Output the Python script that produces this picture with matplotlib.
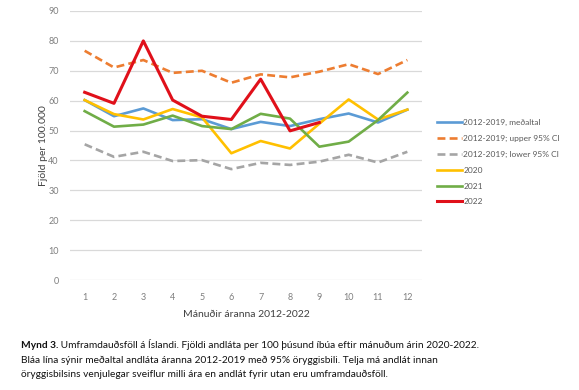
import numpy as np
import matplotlib.pyplot as plt

# Mánuðir 1-12
months = np.arange(1, 13)

mean_1219 = [60.2, 54.8, 57.4, 53.5, 53.8, 50.5, 52.9, 51.5, 53.8, 55.7, 52.7, 57.0]
upper_1219 = [76.7, 71.1, 73.6, 69.3, 70.0, 66.0, 68.8, 67.8, 69.7, 72.2, 68.9, 73.6]
lower_1219 = [45.4, 41.2, 42.9, 39.8, 40.1, 37.1, 39.2, 38.5, 39.6, 41.9, 39.3, 42.9]
y2020 = [60.2, 55.5, 53.7, 57.2, 54.4, 42.4, 46.5, 44.0, 52.3, 60.4, 53.7, 57.0]
y2021 = [56.5, 51.3, 52.0, 55.0, 51.5, 50.5, 55.6, 54.0, 44.6, 46.3, 53.5, 62.7]
y2022 = [62.8, 59.1, 80.0, 60.2, 54.8, 53.7, 67.2, 49.9, 52.7]

labels = ['2012-2019, meðaltal', '2012-2019; upper 95% CI', '2012-2019; lower 95% CI',
          '2020', '2021', '2022']

plt.rcParams['font.family'] = ['Lato', 'DejaVu Sans']

fig = plt.figure(figsize=(5.79, 3.9), dpi=100)
ax = fig.add_axes([70 / 579, 1 - 280 / 390, 352 / 579, 269 / 390])

ax.plot(months, mean_1219, color='#5b9bd5', lw=1.9, label=labels[0])
ax.plot(months, upper_1219, color='#ed7d31', lw=1.9, ls=(0, (3, 1.6)), label=labels[1])
ax.plot(months, lower_1219, color='#a5a5a5', lw=1.9, ls=(0, (3, 1.6)), label=labels[2])
ax.plot(months, y2020, color='#ffc000', lw=1.9, label=labels[3])
ax.plot(months, y2021, color='#70ad47', lw=1.9, label=labels[4])
ax.plot(months[:len(y2022)], y2022, color='#e0101a', lw=2.2, label=labels[5])

ax.set_xlim(0.5, 12.5)
ax.set_ylim(0, 90)
ax.set_xticks(months)
ax.set_yticks(range(0, 91, 10))
ax.grid(axis='y', color='#d9d9d9', lw=0.9)
ax.set_axisbelow(True)
for s in ax.spines.values():
    s.set_visible(False)
ax.tick_params(length=0, labelsize=6.5, labelcolor='#7f7f7f', pad=8)
ax.tick_params(axis='x', pad=9)

ax.set_ylabel('Fjöld per 100.000', fontsize=7.5, color='#404040', labelpad=0)
ax.set_xlabel('Mánuðir áranna 2012-2022', fontsize=7.5, color='#404040', labelpad=6)

ax.legend(loc='upper left', bbox_to_anchor=(1.02, 0.625), frameon=False,
          fontsize=6.0, labelcolor='#595959', handlelength=3.0, handletextpad=0.2,
          labelspacing=1.05)

# myndatexti
cap_size = 7.3
x0 = 21 / 579
rows = [348, 363, 377]
bold = fig.text(x0, 1 - rows[0] / 390, 'Mynd 3.', fontsize=cap_size, weight='bold',
                va='baseline', color='#111111')
fig.canvas.draw()
bb = bold.get_window_extent().transformed(fig.transFigure.inverted())
fig.text(bb.x1, 1 - rows[0] / 390,
         ' Umframdauðsföll á Íslandi. Fjöldi andláta per 100 þúsund íbúa eftir mánuðum árin 2020-2022.',
         fontsize=cap_size, va='baseline', color='#111111')
fig.text(x0, 1 - rows[1] / 390,
         'Bláa lína sýnir meðaltal andláta áranna 2012-2019 með 95% öryggisbili. Telja má andlát innan',
         fontsize=cap_size, va='baseline', color='#111111')
fig.text(x0, 1 - rows[2] / 390,
         'öryggisbilsins venjulegar sveiflur milli ára en andlát fyrir utan eru umframdauðsföll.',
         fontsize=cap_size, va='baseline', color='#111111')

fig.savefig('out.png', dpi=100)
